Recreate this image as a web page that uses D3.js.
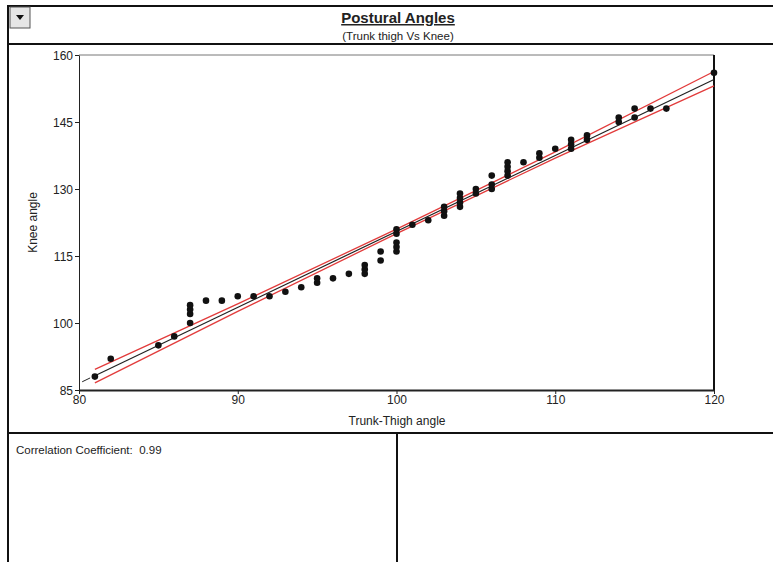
<!DOCTYPE html>
<html>
<head>
<meta charset="utf-8">
<script src="https://cdn.jsdelivr.net/npm/d3@7"></script>
<style>
  body { margin: 0; background: #fff; }
  svg { display: block; font-family: "Liberation Sans", Arial, sans-serif; }
</style>
</head>
<body>
<div id="visualization"></div>
<script>
// trunk-thigh angle (x) and knee angle (y)
const trunkThigh = [81, 82, 85, 86, 87, 87, 87, 87, 88, 89, 90, 91, 92, 93, 94, 95, 95, 96, 97,
  98, 98, 98, 99, 99, 100, 100, 100, 100, 100, 101, 102, 103, 103, 103, 104, 104, 104, 104,
  105, 105, 106, 106, 106, 107, 107, 107, 107, 108, 109, 109, 110, 111, 111, 111, 112, 112,
  114, 114, 115, 115, 116, 117, 120];
const knee = [88, 92, 95, 97, 100, 102, 103, 104, 105, 105, 106, 106, 106, 107, 108, 109, 110, 110, 111,
  111, 112, 113, 114, 116, 116, 117, 118, 120, 121, 122, 123, 124, 125, 126, 126, 127, 128, 129,
  129, 130, 130, 131, 133, 133, 134, 135, 136, 136, 137, 138, 139, 139, 140, 141, 141, 142,
  145, 146, 146, 148, 148, 148, 156];

// fitted line and confidence band
const fitX = [81, 120];
const fitY = [88.2, 154.5];
const bandX = [81, 90, 100, 110, 120];
const bandUpper = [89.6, 104.3, 121.0, 138.3, 156.3];
const bandLower = [86.6, 102.6, 120.0, 136.9, 153.1];

const xTicks = [80, 90, 100, 110, 120];
const yTicks = [85, 100, 115, 130, 145, 160];

const W = 773, H = 562;
const margin = { top: 55, right: 59, bottom: 172, left: 79 };

const svg = d3.select("#visualization").append("svg")
  .attr("width", W).attr("height", H);

// frame of the panels
const frame = svg.append("g").attr("stroke", "#111").attr("fill", "none");
frame.append("line").attr("x1", 7).attr("x2", W).attr("y1", 6).attr("y2", 6).attr("stroke-width", 2);
frame.append("line").attr("x1", 7).attr("x2", W).attr("y1", 44).attr("y2", 44).attr("stroke-width", 2);
frame.append("line").attr("x1", 7).attr("x2", W).attr("y1", 433).attr("y2", 433).attr("stroke-width", 2);
frame.append("line").attr("x1", 8).attr("x2", 8).attr("y1", 5).attr("y2", H).attr("stroke-width", 2);
frame.append("line").attr("x1", 397).attr("x2", 397).attr("y1", 433).attr("y2", H).attr("stroke-width", 2);

// dropdown button
svg.append("rect").attr("x", 10).attr("y", 7).attr("width", 20).attr("height", 21)
  .attr("fill", "#e6e6e6").attr("stroke", "#555");
svg.append("path").attr("d", "M16,15 L24,15 L20,20 Z").attr("fill", "#111");

// title
svg.append("text").attr("x", 398).attr("y", 23).attr("text-anchor", "middle")
  .attr("font-size", 15).attr("font-weight", "bold").attr("text-decoration", "underline")
  .attr("fill", "#222").text("Postural Angles");
svg.append("text").attr("x", 398).attr("y", 40).attr("text-anchor", "middle")
  .attr("font-size", 11.5).attr("fill", "#222").text("(Trunk thigh Vs Knee)");

const x = d3.scaleLinear().domain([80, 120]).range([margin.left, W - margin.right]);
const y = d3.scaleLinear().domain([85, 160]).range([H - margin.bottom + 0, margin.top]);

// plot box: top in grey, right in black
svg.append("line").attr("x1", x(80)).attr("x2", x(120)).attr("y1", y(160)).attr("y2", y(160))
  .attr("stroke", "#777");
svg.append("line").attr("x1", x(120)).attr("x2", x(120)).attr("y1", y(160)).attr("y2", y(85))
  .attr("stroke", "#111").attr("stroke-width", 2);

const xAxis = svg.append("g").attr("transform", `translate(0,${y(85)})`)
  .call(d3.axisBottom(x).tickValues(xTicks).tickSize(4).tickSizeOuter(0));
const yAxis = svg.append("g").attr("transform", `translate(${x(80)},0)`)
  .call(d3.axisLeft(y).tickValues(yTicks).tickSize(4).tickSizeOuter(0));
[xAxis, yAxis].forEach(a => {
  a.selectAll("path, line").attr("stroke", "#222");
  a.selectAll("text").attr("font-size", 12).attr("fill", "#222")
    .attr("font-family", "Liberation Sans, Arial, sans-serif");
});
xAxis.select(".domain").attr("stroke-width", 2);
xAxis.selectAll("text").attr("dy", "0.6em");
yAxis.selectAll("text").attr("dx", "1px").attr("dy", "0.35em");

svg.append("text").attr("x", 397).attr("y", 425).attr("text-anchor", "middle")
  .attr("font-size", 12).attr("fill", "#222").text("Trunk-Thigh angle");
svg.append("text").attr("transform", `translate(37,${y(122.5)}) rotate(-90)`)
  .attr("text-anchor", "middle").attr("font-size", 12).attr("fill", "#222").text("Knee angle");

// confidence band
const band = d3.line().x(d => x(d[0])).y(d => y(d[1]));
svg.append("path").datum(bandX.map((v, i) => [v, bandUpper[i]]))
  .attr("d", band).attr("fill", "none").attr("stroke", "#e23b3b").attr("stroke-width", 1.3);
svg.append("path").datum(bandX.map((v, i) => [v, bandLower[i]]))
  .attr("d", band).attr("fill", "none").attr("stroke", "#e23b3b").attr("stroke-width", 1.3);

// regression line plus dashed lead-in
svg.append("path").datum(fitX.map((v, i) => [v, fitY[i]]))
  .attr("d", band).attr("fill", "none").attr("stroke", "#222").attr("stroke-width", 1.2);
svg.append("line")
  .attr("x1", x(80.2)).attr("y1", y(fitY[0] - 1.36))
  .attr("x2", x(80.7)).attr("y2", y(fitY[0] - 0.5))
  .attr("stroke", "#222").attr("stroke-width", 1);

// data points
svg.append("g").selectAll("circle")
  .data(trunkThigh.map((v, i) => [v, knee[i]]))
  .enter().append("circle")
  .attr("cx", d => x(d[0])).attr("cy", d => y(d[1]))
  .attr("r", 3.3).attr("fill", "#111");

svg.append("text").attr("x", 16).attr("y", 454).attr("font-size", 11.5).attr("fill", "#222")
  .attr("xml:space", "preserve").text("Correlation Coefficient:  0.99");
</script>
</body>
</html>
